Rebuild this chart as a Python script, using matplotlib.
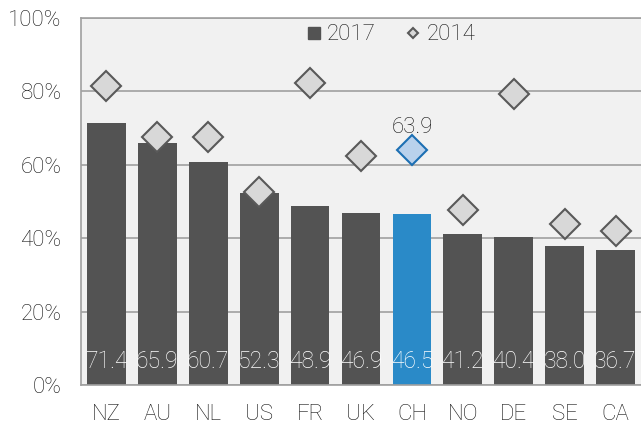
import matplotlib.pyplot as plt
from matplotlib.lines import Line2D
import numpy as np

plt.rcParams['font.family'] = ['Roboto', 'DejaVu Sans']

countries = ["NZ", "AU", "NL", "US", "FR", "UK", "CH", "NO", "DE", "SE", "CA"]
share_2017 = [71.4, 65.9, 60.7, 52.3, 48.9, 46.9, 46.5, 41.2, 40.4, 38.0, 36.7]
share_2014 = [81.5, 67.6, 67.6, 52.5, 82.4, 62.4, 63.9, 47.7, 79.3, 43.9, 42.0]
highlight = "CH"

bar_grey = "#535353"
bar_blue = "#2a8ac8"
txt = "#141414"

fig = plt.figure(figsize=(6.41, 4.28), dpi=100)
ax = fig.add_axes([81 / 641, 43 / 428, 560 / 641, 367 / 428])
ax.set_facecolor("#f1f1f1")

x = np.arange(len(countries))
colors = [bar_blue if c == highlight else bar_grey for c in countries]
ax.bar(x, share_2017, width=0.76, color=colors, zorder=2)

for i, c in enumerate(countries):
    if c == highlight:
        fc, ec = "#b9d1ec", "#1c6fb3"
    else:
        fc, ec = "#d8d8d8", "#595959"
    ax.plot(x[i], share_2014[i], marker="D", ms=15.5, mfc=fc, mec=ec, mew=1.5,
            ls="none", zorder=3)
    ax.text(x[i], 6.5, f"{share_2017[i]:.1f}", ha="center", va="center",
            color="white", fontsize=16.5, fontweight="light", zorder=4)
    if c == highlight:
        ax.text(x[i], share_2014[i] + 6.2, f"{share_2014[i]:.1f}", ha="center",
                va="center", color=txt, fontsize=16, fontweight="light", zorder=4)

ax.set_xlim(-0.5, len(countries) - 0.5)
ax.set_ylim(0, 100)
ax.set_yticks(range(0, 101, 20))
ax.set_yticklabels([f"{v}%" for v in range(0, 101, 20)])
ax.set_xticks(x)
ax.set_xticklabels(countries)
ax.yaxis.grid(True, color="#a0a0a0", lw=1.2, zorder=1)
ax.tick_params(length=0, labelsize=16, labelcolor=txt)
ax.tick_params(axis="x", pad=14)
ax.tick_params(axis="y", pad=14)
for lbl in ax.get_xticklabels() + ax.get_yticklabels():
    lbl.set_fontweight("light")
for s in ["left", "top", "bottom"]:
    ax.spines[s].set_color("#a0a0a0")
    ax.spines[s].set_linewidth(1.2)
ax.spines["right"].set_visible(False)

handles = [
    Line2D([], [], marker="s", ms=9, color=bar_grey, ls="none", label="2017"),
    Line2D([], [], marker="D", ms=5.5, mfc="#d8d8d8", mec="#595959", mew=1.5,
           ls="none", label="2014"),
]
leg = ax.legend(handles=handles, ncol=2, frameon=False, loc="center",
                bbox_to_anchor=(0.55, 0.954), handletextpad=0.1, columnspacing=1.2,
                handlelength=1.0, prop={"size": 16, "weight": "light"})
for t in leg.get_texts():
    t.set_color(txt)

fig.savefig("out.png", dpi=100)
